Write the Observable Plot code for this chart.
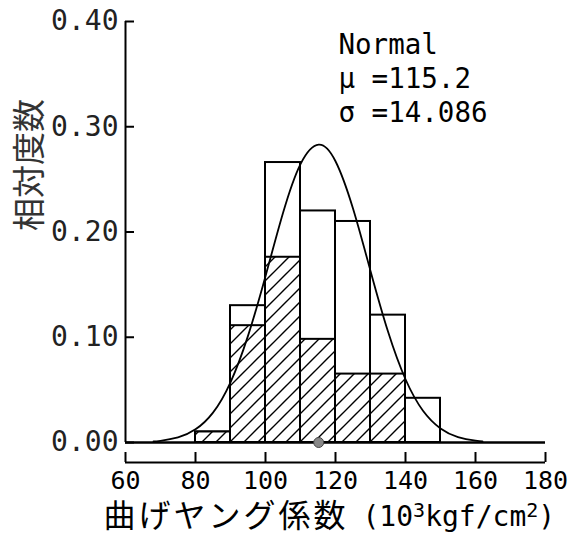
<!DOCTYPE html>
<html><head><meta charset="utf-8">
<script src="https://cdn.jsdelivr.net/npm/d3@7"></script>
<script src="https://cdn.jsdelivr.net/npm/@observablehq/plot@0.6"></script>
<style>html,body{margin:0;padding:0;background:#fff}</style>
</head><body><div id="chart"></div>
<script>
// ---- data ----
const binStarts   = [80, 90, 100, 110, 120, 130, 140];
const binWidth    = 10;
const totalFreq   = [0.010, 0.130, 0.266, 0.220, 0.210, 0.121, 0.042];
const hatchedFreq = [0.010, 0.111, 0.176, 0.098, 0.065, 0.065, 0];
const curveX = [68, 70, 75, 80, 85, 90, 95, 100, 105, 110, 115.2, 120, 125, 130, 135, 140, 145, 150, 155, 160, 162];
const curveY = [0.001, 0.0016, 0.0048, 0.0125, 0.0284, 0.0572, 0.1013, 0.158, 0.218, 0.2645, 0.283, 0.2672, 0.2223, 0.163, 0.1054, 0.0601, 0.0302, 0.0134, 0.0052, 0.0018, 0.0011];
const meanValue = 115.2;
const xTicks = [60, 80, 100, 120, 140, 160, 180];
const yTicks = [0, 0.1, 0.2, 0.3, 0.4];
const noteLines = ["Normal", "μ =115.2", "σ =14.086"];
const xTitleJa = "曲げヤング係数";
const xTitleUnit = ["(10", "3", "kgf/cm", "2", ")"];
const yTitle = "相対度数";

// ---- build tables ----
const bins = binStarts.map((s, i) => ({x1: s, x2: s + binWidth, total: totalFreq[i], hatched: hatchedFreq[i]}));
const curve = curveX.map((x, i) => ({x, y: curveY[i]}));
const mono = "DejaVu Sans Mono";
const cjk = "Noto Sans CJK JP";
const unitText = xTitleUnit.join("");

const plot = Plot.plot({
  width: 586, height: 542,
  marginLeft: 125, marginRight: 41, marginTop: 21, marginBottom: 100,
  x: {domain: [60, 180], label: null},
  y: {domain: [0, 0.4], label: null},
  style: {background: "white", color: "black"},
  marks: [
    Plot.rect(bins, {x1: "x1", x2: "x2", y1: 0, y2: "total", fill: "white", stroke: "black", strokeWidth: 2}),
    Plot.rect(bins.filter(d => d.hatched > 0), {x1: "x1", x2: "x2", y1: 0, y2: "hatched", fill: "url(#hatch)", stroke: "black", strokeWidth: 2}),
    Plot.line(curve, {x: "x", y: "y", curve: "natural", stroke: "black", strokeWidth: 1.8}),
    Plot.ruleY([0], {stroke: "black", strokeWidth: 2.5}),
    Plot.ruleY([0], {stroke: "black", strokeWidth: 2, dy: 20}),
    Plot.ruleX([60], {y1: 0, y2: 0.4, stroke: "black", strokeWidth: 2}),
    Plot.axisY({ticks: yTicks, tickSize: 9, dx: 9, tickPadding: 7, tickFormat: d => d.toFixed(2), strokeWidth: 2, fontFamily: mono, fontSize: 28, fill: "#222"}),
    Plot.axisX({ticks: xTicks, tickSize: 10, dy: 10, tickPadding: 9, tickFormat: d => String(d), strokeWidth: 2, fontFamily: mono, fontSize: 25, fill: "black"}),
    Plot.dot([meanValue], {x: d => d, y: 0, r: 5, fill: "#888", stroke: "#444", strokeWidth: 1}),
    Plot.text([noteLines.join("\n")], {frameAnchor: "top-left", dx: 213, dy: 8, textAnchor: "start", lineAnchor: "top", lineHeight: 1.24, fontFamily: mono, fontSize: 27.5, fill: "black"}),
    Plot.text([xTitleJa], {frameAnchor: "bottom-left", dx: -22, dy: 84, textAnchor: "start", fontFamily: cjk, fontSize: 32, fill: "black"}),
    Plot.text([unitText], {frameAnchor: "bottom-left", dx: 237, dy: 83, textAnchor: "start", fontFamily: mono, fontSize: 28, fill: "black"}),
    Plot.text([yTitle], {frameAnchor: "left", dx: -95, dy: -1, rotate: -90, fontFamily: cjk, fontSize: 33, fill: "#333"})
  ]
});

// hatch pattern
const svg = d3.select(plot);
const defs = svg.insert("defs", ":first-child");
const pat = defs.append("pattern").attr("id", "hatch").attr("patternUnits", "userSpaceOnUse").attr("width", 14).attr("height", 14);
pat.append("rect").attr("width", 14).attr("height", 14).attr("fill", "white");
pat.append("path").attr("d", "M-2,2 L2,-2 M0,14 L14,0 M12,16 L16,12").attr("stroke", "black").attr("stroke-width", 1.4).attr("fill", "none");
svg.selectAll("text").filter(function() { return this.textContent === xTitleJa; }).style("letter-spacing", "3px");
// superscripts in the unit text
svg.selectAll("text").filter(function() { return this.textContent === unitText; }).each(function() {
  const t = d3.select(this);
  t.text(null);
  xTitleUnit.forEach((part, i) => {
    const sup = i === 1 || i === 3;
    t.append("tspan").text(part)
      .attr("font-size", sup ? 20 : null)
      .attr("dy", sup ? -9 : (i > 0 ? 9 : null));
  });
});

document.getElementById("chart").appendChild(plot);
</script>
</body></html>
